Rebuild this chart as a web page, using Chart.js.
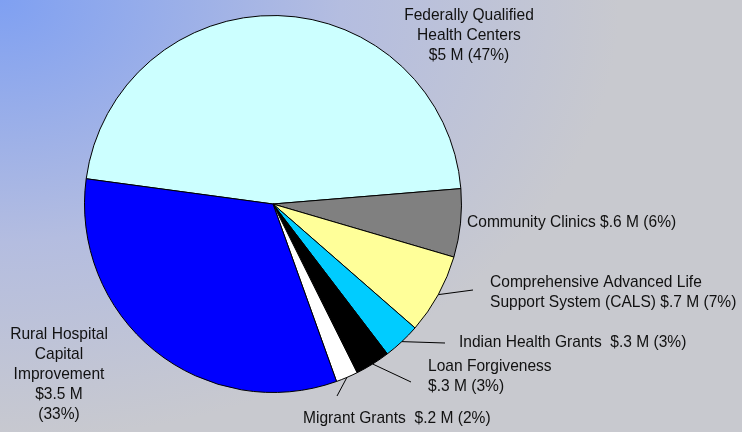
<!DOCTYPE html>
<html>
<head>
<meta charset="utf-8">
<script src="https://cdn.jsdelivr.net/npm/chart.js@4.4.0/dist/chart.umd.min.js"></script>
<style>
  html, body { margin: 0; padding: 0; }
  body {
    width: 742px;
    height: 432px;
    background: radial-gradient(ellipse 620px 440px at 0 0, #7fa0f2 0%, #b4bde0 55%, #c8c9cf 100%);
    overflow: hidden;
  }
  #wrap { position: relative; width: 742px; height: 432px; }
</style>
</head>
<body>
<div id="wrap"><canvas id="myChart"></canvas></div>
<script>
// * Funding by program, $ millions
const categories = [
    "Federally Qualified Health Centers",
    "Community Clinics",
    "Comprehensive Advanced Life Support System (CALS)",
    "Indian Health Grants",
    "Loan Forgiveness",
    "Migrant Grants",
    "Rural Hospital Capital Improvement",
];
const amounts = [4.94, 0.62, 0.73, 0.34, 0.32, 0.2, 3.46];
const sliceColors = ["#ccffff", "#808080", "#ffff99", "#00ccff", "#000000", "#ffffff", "#0000ff"];

// * Label text, one entry per slice (lines)
const labelLines = [
    ["Federally Qualified", "Health Centers", "$5 M (47%)"],
    ["Community Clinics $.6 M (6%)"],
    ["Comprehensive Advanced Life", "Support System (CALS) $.7 M (7%)"],
    ["Indian Health Grants  $.3 M (3%)"],
    ["Loan Forgiveness", "$.3 M (3%)"],
    ["Migrant Grants  $.2 M (2%)"],
    ["Rural Hospital", "Capital", "Improvement", "$3.5 M", "(33%)"],
];

// * Where each label sits and where its leader line ends (null = no line)
const labelPlace = [
    { x: 469, y: 15, align: "center", line: null },
    { x: 467, y: 222, align: "left", line: null },
    { x: 490, y: 282, align: "left", line: [473, 290] },
    { x: 459, y: 342, align: "left", line: [445, 343] },
    { x: 428, y: 366, align: "left", line: [411, 382] },
    { x: 303, y: 418, align: "left", line: [337, 396] },
    { x: 59, y: 334, align: "center", line: null },
];

const labelPlugin = {
    id: "sliceLabels",
    afterDraw(chart) {
        const ctx = chart.ctx;
        const arcs = chart.getDatasetMeta(0).data;
        ctx.save();
        ctx.strokeStyle = "#000";
        ctx.lineWidth = 1;
        arcs.forEach((arc, i) => {
            const p = labelPlace[i];
            if (p.line) {
                const mid = (arc.startAngle + arc.endAngle) / 2;
                ctx.beginPath();
                ctx.moveTo(arc.x + Math.cos(mid) * arc.outerRadius, arc.y + Math.sin(mid) * arc.outerRadius);
                ctx.lineTo(p.line[0], p.line[1]);
                ctx.stroke();
            }
        });
        ctx.fillStyle = "#111";
        ctx.font = '17px "Liberation Sans", Arial, sans-serif';
        ctx.textBaseline = "middle";
        labelLines.forEach((lines, i) => {
            const p = labelPlace[i];
            ctx.textAlign = p.align;
            lines.forEach((txt, k) => {
                ctx.save();
                ctx.translate(p.x, p.y + k * 20);
                ctx.scale(0.915, 1); // * text in the original is a bit narrow
                ctx.fillText(txt, 0, 0);
                ctx.restore();
            });
        });
        ctx.restore();
    },
};

const config = {
    type: "pie",
    data: {
        labels: categories,
        datasets: [
            {
                data: amounts,
                backgroundColor: sliceColors,
                borderColor: "#000",
                borderWidth: 1,
            },
        ],
    },
    options: {
        responsive: true,
        maintainAspectRatio: false,
        animation: false,
        rotation: -82.3,
        layout: {
            padding: { left: 84, top: 15, right: 280, bottom: 39 },
        },
        plugins: {
            legend: { display: false },
            tooltip: { enabled: false },
        },
    },
    plugins: [labelPlugin],
};

document.getElementById("wrap").style.height = "432px";
const ctx = document.getElementById("myChart").getContext("2d");
const chart = new Chart(ctx, config);
</script>
</body>
</html>
